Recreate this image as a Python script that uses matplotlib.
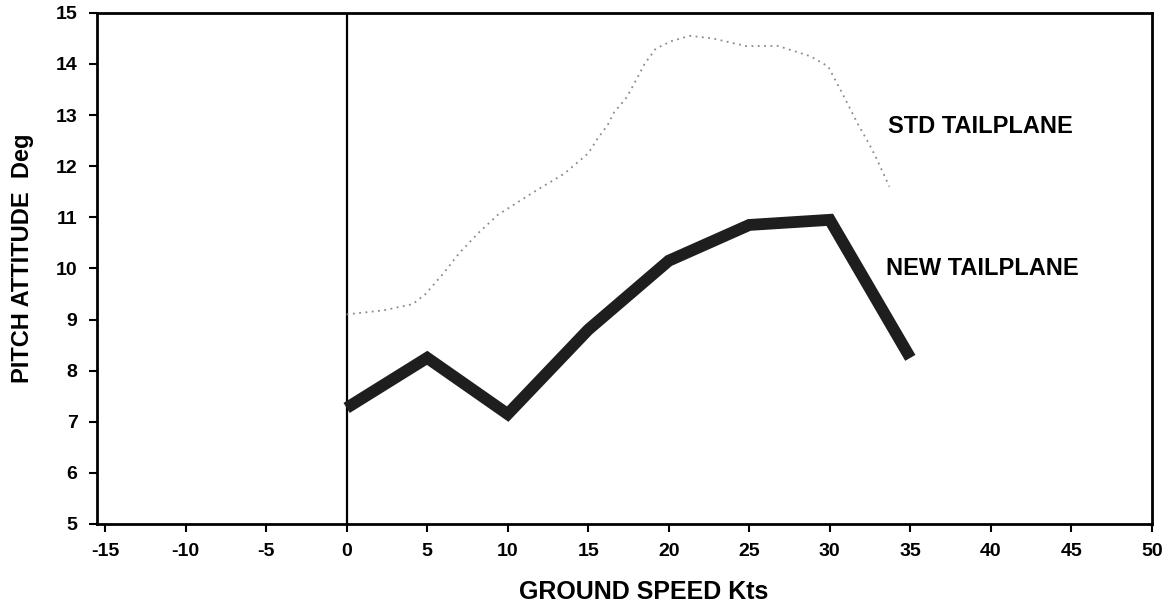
import numpy as np
import matplotlib.pyplot as plt

plt.rcParams['font.family'] = ['Liberation Sans', 'DejaVu Sans']
plt.rcParams['axes.unicode_minus'] = False

# new tailplane (thick line)
new_speed = [0, 5, 10, 15, 20, 25, 30, 35]
new_pitch = [7.27, 8.25, 7.15, 8.8, 10.15, 10.85, 10.95, 8.25]

# standard tailplane (faint dotted trace)
std_speed = [0, 2.3, 4.1, 4.9, 6.0, 7.0, 8.2, 9.4, 10.4, 11.9, 13.5, 15.0, 15.6, 16.2,
             16.6, 17.4, 18.0, 18.5, 19.2, 20.2, 21.3, 22.7, 24.8, 26.8, 28.8, 29.9,
             30.9, 31.7, 32.5, 32.9, 33.7]
std_pitch = [9.1, 9.18, 9.3, 9.5, 9.9, 10.3, 10.7, 11.05, 11.25, 11.55, 11.85, 12.25, 12.55, 12.8,
             13.05, 13.35, 13.7, 14.0, 14.3, 14.45, 14.55, 14.5, 14.35, 14.35, 14.15, 13.95,
             13.35, 12.85, 12.4, 12.15, 11.6]

xticks = np.arange(-15, 55, 5)
yticks = np.arange(5, 16, 1)

fig = plt.figure(figsize=(11.73, 6.10), dpi=100)
ax = fig.add_axes([0.0827, 0.141, 0.8993, 0.838])

ax.axvline(0, color='black', lw=1.6, zorder=1)
ax.plot(std_speed, std_pitch, color='#8a8a8a', lw=1.3, linestyle=(0, (1, 2.5)), zorder=2)
ax.plot(new_speed, new_pitch, color='#1e1e1e', lw=8.5, solid_capstyle='butt',
        solid_joinstyle='miter', zorder=3)

ax.text(33.6, 12.78, 'STD TAILPLANE', fontsize=17, fontweight='bold', va='center')
ax.text(33.5, 10.0, 'NEW TAILPLANE', fontsize=17, fontweight='bold', va='center')

ax.set_xlim(-15.5, 50)
ax.set_ylim(5, 15)
ax.set_xticks(xticks)
ax.set_yticks(yticks)
ax.tick_params(direction='out', length=6, width=1.5, labelsize=14, pad=8)
for lab in ax.get_xticklabels() + ax.get_yticklabels():
    lab.set_fontweight('bold')
for s in ax.spines.values():
    s.set_linewidth(2)

ax.set_xlabel('GROUND SPEED Kts', fontsize=18, fontweight='bold', va='center')
ax.set_ylabel('PITCH ATTITUDE  Deg', fontsize=17, fontweight='bold', va='center')
ax.xaxis.set_label_coords(0.518, -0.133)
ax.yaxis.set_label_coords(-0.071, 0.52)

fig.savefig('out.png', dpi=100)
